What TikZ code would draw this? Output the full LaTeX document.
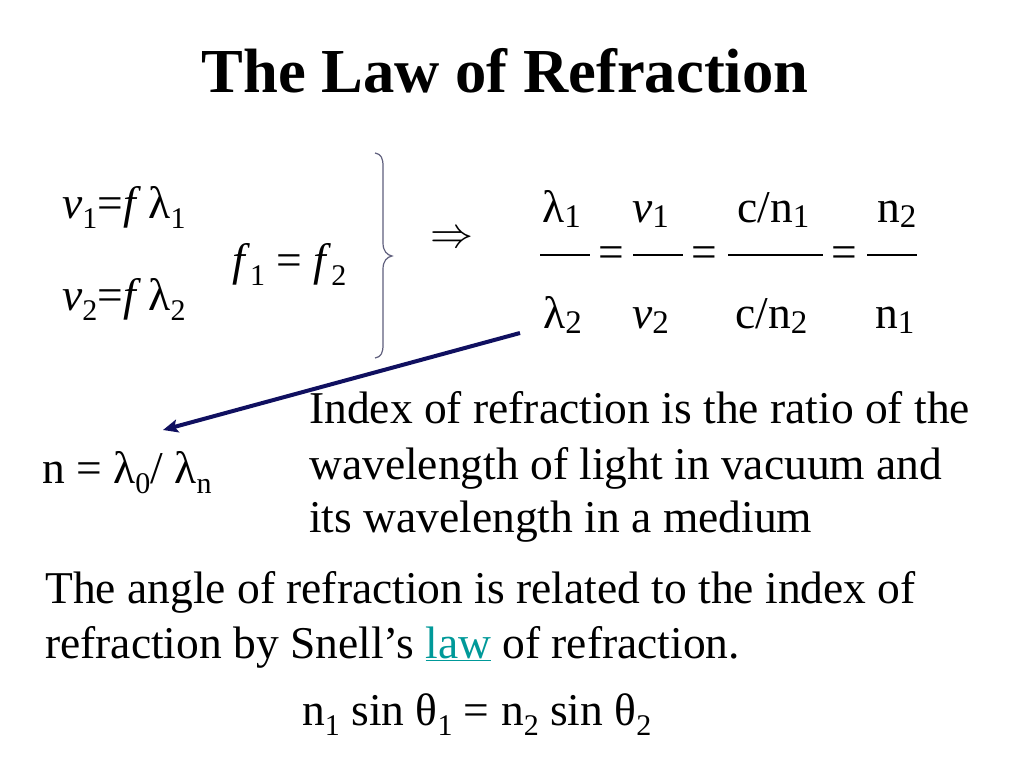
\documentclass[tikz,border=0pt]{standalone}
\usepackage{fontspec}
\setmainfont{Liberation Serif}
\usetikzlibrary{arrows.meta}
\definecolor{navy}{RGB}{16,16,96}
\definecolor{bracec}{RGB}{95,95,125}
\definecolor{linkteal}{RGB}{0,153,153}
\newcommand\lo[2][10pt]{\raisebox{-#1}{\fontsize{30}{30}\selectfont #2}}
\newcommand\flo[1]{\raisebox{-5pt}{\fontsize{33}{33}\selectfont #1}}
\tikzset{
  txt/.style={inner sep=0pt, anchor=base west, font=\fontsize{45.5}{56}\selectfont},
  eqs/.style={inner sep=0pt, anchor=base, font=\fontsize{45.5}{56}\selectfont},
  titlestyle/.style={inner sep=0pt, anchor=base, font=\fontsize{62.6}{75}\selectfont\bfseries},
  fbar/.style={line width=2.2pt, line cap=butt},
  bracestyle/.style={draw=bracec, line width=1.2pt},
  navyarrow/.style={draw=navy, line width=4pt, -{Stealth[length=15pt,width=13pt,inset=3pt]}}
}
\begin{document}
\begin{tikzpicture}[x=1pt,y=-1pt]
\useasboundingbox[fill=white] (0,0) rectangle (1024,768);
% title
\node[titlestyle] (title) at (505,92) {The Law of Refraction};
% left equations
\node[txt] (v1) at (62,218) {\textit{v}\lo{1}=\textit{f}\,λ\lo{1}};
\node[txt] (v2) at (62,310) {\textit{v}\lo{2}=\textit{f}\,λ\lo{2}};
\node[txt] (f12) at (232,275) {\textit{f}\lo{1} = \textit{f}\lo{2}};
% brace
\draw[bracestyle] (375,153) .. controls (381,154) and (383,158) .. (383,166)
  -- (383,243) .. controls (383,251) and (387,255) .. (392,256)
  .. controls (387,257) and (383,261) .. (383,269)
  -- (383,345) .. controls (383,353) and (381,357) .. (375,358);
\node[inner sep=0pt, anchor=center] (impl) at (452,240) {\scalebox{4.3}{$\Rightarrow$}};
% fractions
\node[txt] (num1) at (542,222) {λ\flo{1}};
\node[txt] (den1) at (543,328) {λ\flo{2}};
\node[txt] (num2) at (632,222) {\textit{v}\flo{1}};
\node[txt] (den2) at (632,328) {\textit{v}\flo{2}};
\node[txt] (num3) at (737,222) {c/n\flo{1}};
\node[txt] (den3) at (735,328) {c/n\flo{2}};
\node[txt] (num4) at (877,222) {n\flo{2}};
\node[txt] (den4) at (875,328) {n\flo{1}};
\draw[fbar] (540,255) -- (590,255);
\draw[fbar] (633,255) -- (683,255);
\draw[fbar] (728,255) -- (823,255);
\draw[fbar] (867,255) -- (917,255);
\node[eqs] (eq1) at (611,267) {=};
\node[eqs] (eq2) at (704,267) {=};
\node[eqs] (eq3) at (844,267) {=};
% arrow
\coordinate (arrS) at (520,333);
\coordinate (arrE) at (163,430);
\draw[navyarrow] (arrS) -- (arrE);
% index definition
\node[txt] (nidx) at (42,483) {n = λ\lo{0}/ λ\lo{n}};
\node[txt] (idx1) at (309,423) {Index of refraction is the ratio of the};
\node[txt] (idx2) at (309,479) {wavelength of light in vacuum and};
\node[txt] (idx3) at (309,532) {its wavelength in a medium};
% Snell
\node[txt] (sn1) at (45,603) {The angle of refraction is related to the index of};
\node[txt] (sn2) at (45,658) {refraction by Snell’s \textcolor{linkteal}{\underline{law}} of refraction.};
\node[txt] (snell) at (302,725) {n\lo{1} sin θ\lo{1} = n\lo{2} sin θ\lo{2}};
\end{tikzpicture}
\end{document}
